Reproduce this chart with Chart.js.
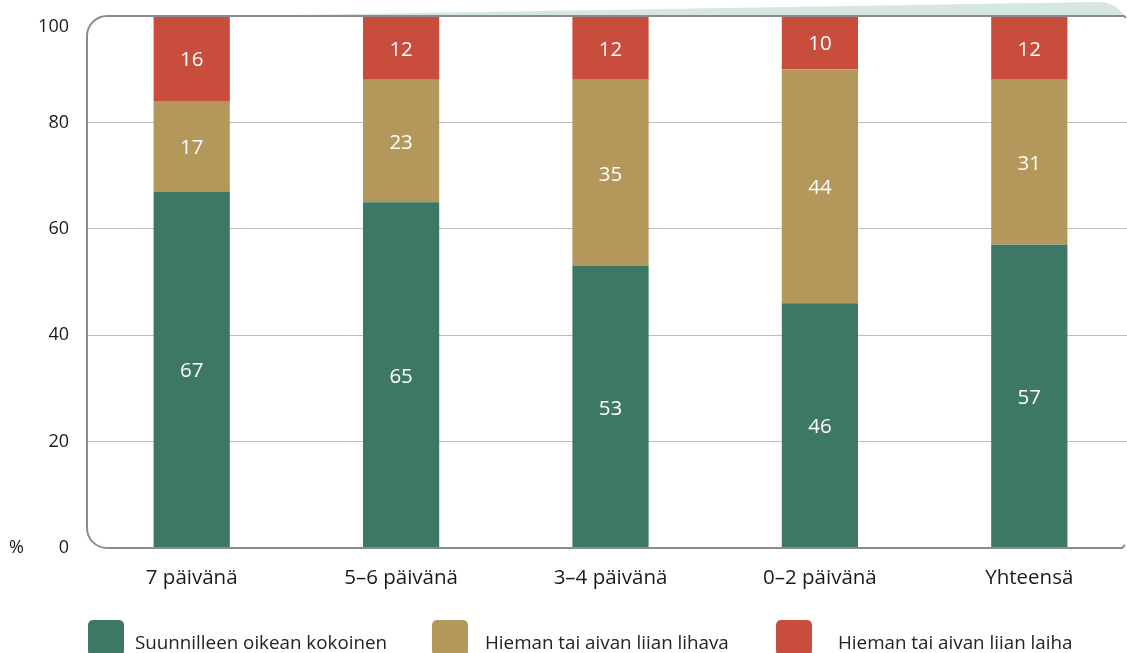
<!DOCTYPE html>
<html lang="fi">
<head>
<meta charset="utf-8">
<script src="https://cdn.jsdelivr.net/npm/chart.js@4/dist/chart.umd.min.js"></script>
<style>
  html, body { margin: 0; padding: 0; background: #fff; overflow: hidden; }
  body { width: 1127px; height: 653px; position: relative; font-family: "Open Sans", sans-serif; }
  #wrap { position: absolute; left: 0; top: 0; width: 1134px; height: 653px; }
  .box { position: absolute; top: 620px; width: 36px; height: 36px; border-radius: 5px; }
  .txt { position: absolute; top: 629px; font-size: 18.8px; color: #222; white-space: nowrap; }
</style>
</head>
<body>
<div id="wrap"><canvas id="chart" width="1134" height="653"></canvas></div>
<div id="legend"></div>
<script>
// --------------------------------------------------------------------------
// Data
// --------------------------------------------------------------------------

const categories = ["7 päivänä", "5–6 päivänä", "3–4 päivänä", "0–2 päivänä", "Yhteensä"];
const seriesNames = [
  "Suunnilleen oikean kokoinen",
  "Hieman tai aivan liian lihava",
  "Hieman tai aivan liian laiha",
];
const oikeanKokoinen = [67, 65, 53, 46, 57];
const liianLihava = [17, 23, 35, 44, 31];
const liianLaiha = [16, 12, 12, 10, 12];
const yTicks = [0, 20, 40, 60, 80, 100];

const colors = ["#3d7765", "#b4975a", "#c94d3d"];
const FONT = "'Open Sans', sans-serif";

// --------------------------------------------------------------------------
// Plugins
// --------------------------------------------------------------------------

// rounded frame around the plot + the pale tab above its top edge
const framePlugin = {
  id: "frame",
  beforeDraw(chart) {
    const { ctx, chartArea: a } = chart;
    ctx.save();
    ctx.fillStyle = "#d6e6e1";
    ctx.beginPath();
    ctx.moveTo(230, a.top);
    ctx.lineTo(1098, a.top - 14);
    ctx.quadraticCurveTo(1116, a.top - 14, 1124, a.top);
    ctx.closePath();
    ctx.fill();
    ctx.restore();
  },
  afterDatasetsDraw(chart) {
    const { ctx, chartArea: a } = chart;
    const r = 20, right = 1124;
    ctx.save();
    ctx.strokeStyle = "#8a8b8f";
    ctx.lineWidth = 2;
    ctx.beginPath();
    ctx.moveTo(right + 2, a.top + 2);
    ctx.lineTo(right, a.top);
    ctx.lineTo(a.left + r, a.top);
    ctx.arcTo(a.left, a.top, a.left, a.top + r, r);
    ctx.lineTo(a.left, a.bottom - r);
    ctx.arcTo(a.left, a.bottom, a.left + r, a.bottom, r);
    ctx.lineTo(right - 2, a.bottom);
    ctx.lineTo(right + 1, a.bottom - 3);
    ctx.stroke();
    ctx.restore();
  },
};

// value labels inside each bar segment, y tick labels and the % sign
const labelPlugin = {
  id: "labels",
  afterDraw(chart) {
    const { ctx } = chart;
    ctx.save();
    ctx.font = "20.5px " + FONT;
    ctx.fillStyle = "#ffffff";
    ctx.textAlign = "center";
    ctx.textBaseline = "middle";
    chart.data.datasets.forEach((ds, i) => {
      chart.getDatasetMeta(i).data.forEach((bar, j) => {
        const mid = (bar.y + bar.base) / 2;
        ctx.fillText(String(ds.data[j]), bar.x, mid + 2);
      });
    });

    const y = chart.scales.y;
    ctx.font = "18px " + FONT;
    ctx.fillStyle = "#1a1a1a";
    ctx.textAlign = "right";
    yTicks.forEach((v) => {
      let py = y.getPixelForValue(v);
      if (v === 100) py += 11;
      ctx.fillText(String(v), 69, py);
    });
    ctx.textAlign = "left";
    ctx.fillText("%", 9, y.getPixelForValue(0));
    ctx.restore();
  },
};

// --------------------------------------------------------------------------
// Chart
// --------------------------------------------------------------------------

const ctx = document.getElementById("chart").getContext("2d");

new Chart(ctx, {
  type: "bar",
  data: {
    labels: categories,
    datasets: [oikeanKokoinen, liianLihava, liianLaiha].map((values, i) => ({
      label: seriesNames[i],
      data: values,
      backgroundColor: colors[i],
      borderWidth: 0,
      categoryPercentage: 1,
      barPercentage: 0.364,
    })),
  },
  options: {
    responsive: false,
    animation: false,
    layout: { padding: { top: 16, right: 0, left: 0, bottom: 0 } },
    plugins: {
      legend: { display: false },
      tooltip: { enabled: false },
    },
    scales: {
      x: {
        stacked: true,
        grid: { display: false, drawTicks: false },
        border: { display: false },
        ticks: {
          padding: 18,
          color: "#1a1a1a",
          font: { family: FONT, size: 20.5 },
        },
        afterFit(scale) { scale.height = 105; },
      },
      y: {
        stacked: true,
        min: 0,
        max: 100,
        afterFit(scale) { scale.width = 87; },
        afterBuildTicks(scale) { scale.ticks = yTicks.map((v) => ({ value: v })); },
        border: { display: false },
        grid: {
          drawTicks: false,
          lineWidth: 1,
          color: (c) => (c.tick && (c.tick.value === 0 || c.tick.value === 100) ? "transparent" : "#bdbdbd"),
        },
        ticks: { display: false },
      },
    },
  },
  plugins: [framePlugin, labelPlugin],
});

// --------------------------------------------------------------------------
// Legend
// --------------------------------------------------------------------------

const legendBoxX = [88, 432, 776];
const legendTextX = [135, 485, 838];
const legendEl = document.getElementById("legend");
seriesNames.forEach((name, i) => {
  const box = document.createElement("div");
  box.className = "box";
  box.style.left = legendBoxX[i] + "px";
  box.style.background = colors[i];
  const txt = document.createElement("div");
  txt.className = "txt";
  txt.style.left = legendTextX[i] + "px";
  txt.textContent = name;
  legendEl.appendChild(box);
  legendEl.appendChild(txt);
});
</script>
</body>
</html>
